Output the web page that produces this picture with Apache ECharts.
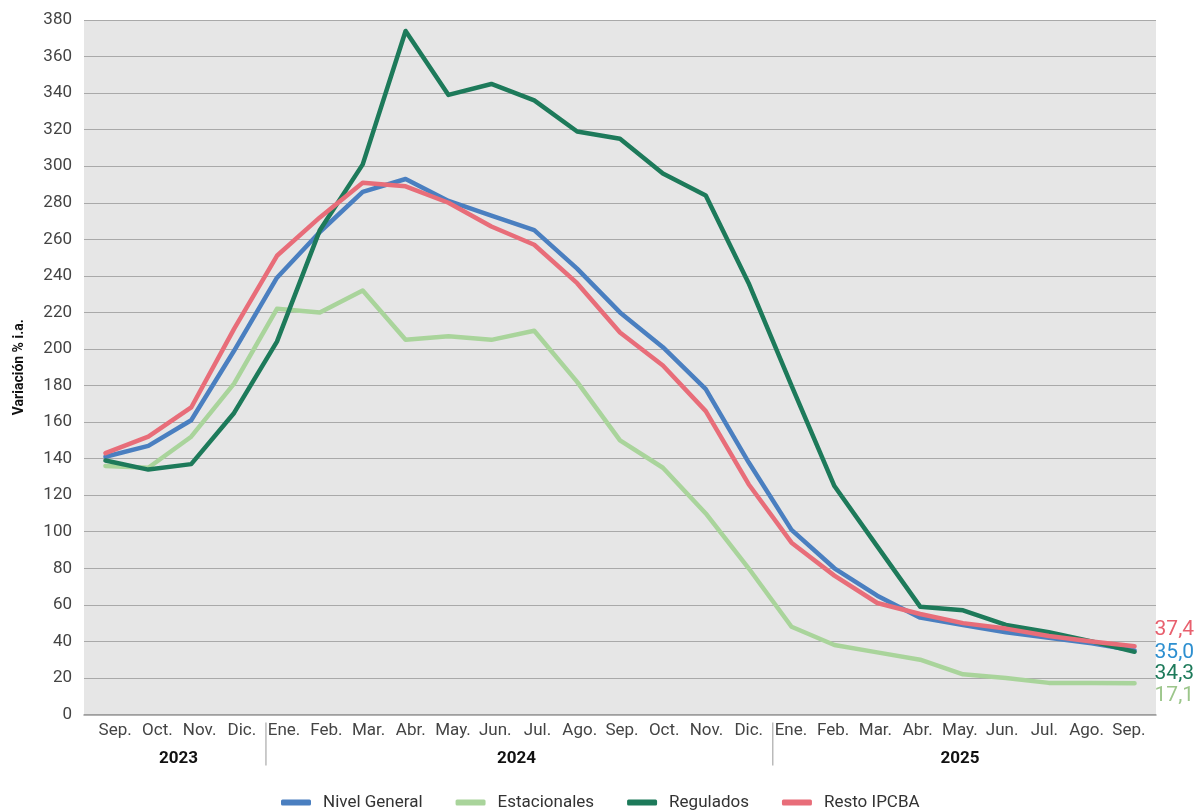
<!DOCTYPE html>
<html>
<head>
<meta charset="utf-8">
<script src="https://cdn.jsdelivr.net/npm/echarts@6/dist/echarts.min.js"></script>
<style>
html,body{margin:0;padding:0;background:#fff;}
#chart{width:1198px;height:810px;}
</style>
</head>
<body>
<div id="chart"></div>
<script>
const periods = ['2023-09','2023-10','2023-11','2023-12','2024-01','2024-02','2024-03','2024-04','2024-05','2024-06','2024-07','2024-08','2024-09','2024-10','2024-11','2024-12','2025-01','2025-02','2025-03','2025-04','2025-05','2025-06','2025-07','2025-08','2025-09'];
const monthLabels = ['Sep.','Oct.','Nov.','Dic.','Ene.','Feb.','Mar.','Abr.','May.','Jun.','Jul.','Ago.','Sep.','Oct.','Nov.','Dic.','Ene.','Feb.','Mar.','Abr.','May.','Jun.','Jul.','Ago.','Sep.'];
const years = ['2023','2024','2025'];
const yearStartIdx = [0, 4, 16];
const yearEndIdx = [3, 15, 24];

const nivelGeneral = [141,147,161,199,239,264,286,293,281,273,265,244,220,201,178,138,101,80,65,53,49,45,42,39,35.0];
const estacionales = [136,135,152,181,222,220,232,205,207,205,210,182,150,135,110,80,48,38,34,30,22,20,17.3,17.2,17.1];
const regulados = [139,134,137,165,204,265,301,374,339,345,336,319,315,296,284,236,180,125,92,59,57,49,45,40,34.3];
const restoIPCBA = [143,152,168,211,251,272,291,289,280,267,257,236,209,191,166,126,94,76,61,55,50,47,43,40,37.4];

const yTicks = {min: 0, max: 380, interval: 20};

const FONT = 'Roboto, "Noto Sans", sans-serif';
const colors = {nivel:'#4a7fc0', est:'#a9d49b', reg:'#1d7a5a', resto:'#e86d79'};
const labelColors = {nivel:'#2d8fd0', est:'#9cc68b', reg:'#1d7a5a', resto:'#e8606e'};

function fmt(v){ return v.toFixed(1).replace('.', ','); }

function mkSeries(name, data, key, dy){
  return {
    name: name, type: 'line', data: data, xAxisIndex: 0, yAxisIndex: 0,
    symbol: 'none', smooth: false,
    lineStyle: {color: colors[key], width: 4.5, cap: 'round', join: 'round'},
    itemStyle: {color: colors[key]},
    emphasis: {disabled: true},
    endLabel: {
      show: true, formatter: p => fmt(p.value), color: labelColors[key],
      fontFamily: FONT, fontSize: 21, offset: [20, dy], distance: 0
    }
  };
}

const chart = echarts.init(document.getElementById('chart'), null, {renderer: 'canvas'});
const gridTop = 20, gridBottom = 95.5;
chart.setOption({
  animation: false,
  textStyle: {fontFamily: FONT},
  grid: [
    {left: 84, right: 42, top: gridTop, bottom: gridBottom, show: true, backgroundColor: '#e6e6e6', borderWidth: 0},
    {left: 94, width: 1056, top: gridTop, bottom: gridBottom, show: false}
  ],
  xAxis: [
    {type: 'category', gridIndex: 0, data: periods, boundaryGap: true,
     axisLine: {show: true, lineStyle: {color: '#9a9a9a', width: 1.5}},
     axisTick: {show: false}, axisLabel: {show: false}, splitLine: {show: false}},
    {type: 'category', gridIndex: 1, data: periods, boundaryGap: true,
     axisLine: {show: false}, axisTick: {show: false}, splitLine: {show: false},
     axisLabel: {show: true, interval: 0, margin: 8, color: '#444', fontSize: 17, fontFamily: FONT,
       formatter: (v, i) => monthLabels[i]}}
  ],
  yAxis: [
    {type: 'value', gridIndex: 0, min: yTicks.min, max: yTicks.max, interval: yTicks.interval,
     axisLine: {show: false}, axisTick: {show: false},
     splitLine: {show: true, lineStyle: {color: '#a9a9a9', width: 1.2}},
     axisLabel: {color: '#444', fontSize: 17, margin: 12, fontFamily: FONT},
     name: 'Variación % i.a.', nameLocation: 'middle', nameRotate: 90, nameGap: 58,
     nameTextStyle: {color: '#111', fontSize: 14, fontWeight: 'bold', fontFamily: FONT}},
    {type: 'value', gridIndex: 1, show: false, min: 0, max: 380}
  ],
  legend: {
    left: 276, top: 789, itemWidth: 30, itemHeight: 6, itemGap: 33, icon: 'roundRect',
    textStyle: {color: '#333', fontSize: 17, fontFamily: FONT, padding: [0,0,0,7]},
    data: ['Nivel General','Estacionales','Regulados','Resto IPCBA']
  },
  series: [
    mkSeries('Nivel General', nivelGeneral, 'nivel', 2),
    mkSeries('Estacionales', estacionales, 'est', 13),
    mkSeries('Regulados', regulados, 'reg', 22),
    mkSeries('Resto IPCBA', restoIPCBA, 'resto', -16)
  ]
});

// Year labels and separators positioned from the label axis scale
const gfx = [];
const axisY = chart.convertToPixel({yAxisIndex: 0}, 0);
const step = chart.convertToPixel({xAxisIndex: 1}, periods[1]) - chart.convertToPixel({xAxisIndex: 1}, periods[0]);
years.forEach((yr, k) => {
  const x0 = chart.convertToPixel({xAxisIndex: 1}, periods[yearStartIdx[k]]);
  const x1 = chart.convertToPixel({xAxisIndex: 1}, periods[yearEndIdx[k]]);
  gfx.push({type: 'text', x: (x0 + x1) / 2, y: axisY + 44,
    style: {text: yr, fill: '#111', font: 'bold 17px ' + FONT, textAlign: 'center', textVerticalAlign: 'middle'}});
  if (k > 0) {
    const xs = x0 - step / 2 + 3;
    gfx.push({type: 'line', shape: {x1: xs, y1: axisY + 8, x2: xs, y2: axisY + 51},
      style: {stroke: '#999', lineWidth: 1}});
  }
});
chart.setOption({graphic: gfx});
</script>
</body>
</html>
